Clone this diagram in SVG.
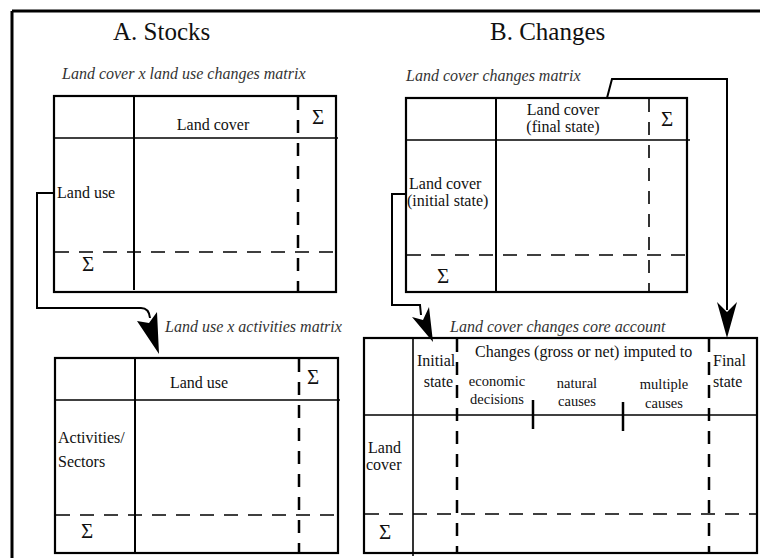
<svg xmlns="http://www.w3.org/2000/svg" width="760" height="558" viewBox="0 0 760 558">
<style>
text{font-family:"Liberation Serif","Times New Roman",serif;fill:#111;font-size:16px}
.title{font-size:25px}
.it{font-style:italic;fill:#333}
.sig{font-size:21px;text-anchor:middle}
.mid{text-anchor:middle}
.end{text-anchor:end}
.sm{font-size:14.5px}
.box{fill:none;stroke:#000;stroke-width:2.2}
.col{stroke:#000;stroke-width:2}
.hdr{stroke:#000;stroke-width:1.3}
.dv{stroke:#000;stroke-width:2.5;stroke-dasharray:13 10}
.dh{stroke:#000;stroke-width:1.5;stroke-dasharray:14 10}
.conn{fill:none;stroke:#000;stroke-width:2}
.head{fill:#000}
</style>
<rect width="760" height="558" fill="#fff"/>
<g id="frame">
<line x1="12" y1="11" x2="760" y2="11" stroke="#000" stroke-width="3"/>
<line x1="12" y1="11" x2="12" y2="558" stroke="#000" stroke-width="3"/>
</g>
<text class="title" x="113" y="40">A. Stocks</text>
<text class="title" x="490" y="40">B. Changes</text>

<g id="matrixA1">
<text class="it" x="62" y="79">Land cover x land use changes matrix</text>
<rect class="box" x="54" y="96" width="282" height="196"/>
<line class="hdr" x1="54" y1="138" x2="338" y2="138"/>
<line class="col" x1="134" y1="96" x2="134" y2="290"/>
<line class="dv" x1="298" y1="97" x2="298" y2="292"/>
<line class="dh" x1="55" y1="252" x2="336" y2="252"/>
<text class="mid" x="213" y="130">Land cover</text>
<text class="sig" x="318" y="124">Σ</text>
<text x="57" y="198">Land use</text>
<text class="sig" x="88" y="271">Σ</text>
</g>

<g id="matrixA2">
<text class="it" x="165" y="332">Land use x activities matrix</text>
<rect class="box" x="55" y="358" width="283" height="195"/>
<line class="hdr" x1="55" y1="400" x2="340" y2="400"/>
<line class="col" x1="135" y1="358" x2="135" y2="553"/>
<line class="dv" x1="299" y1="359" x2="299" y2="553"/>
<line class="dh" x1="56" y1="515" x2="338" y2="515"/>
<text class="mid" x="199" y="388">Land use</text>
<text class="sig" x="313" y="384">Σ</text>
<text x="58" y="443">Activities/</text>
<text x="58" y="467">Sectors</text>
<text class="sig" x="87" y="538">Σ</text>
</g>

<g id="matrixB1">
<text class="it" x="406" y="81">Land cover changes matrix</text>
<rect class="box" x="406" y="98" width="281" height="194"/>
<line class="hdr" x1="406" y1="140" x2="690" y2="140"/>
<line class="col" x1="496" y1="98" x2="496" y2="292"/>
<line class="dv" x1="649" y1="99" x2="649" y2="292" style="stroke-width:1.6"/>
<line class="dh" x1="407" y1="255" x2="687" y2="255"/>
<text class="mid" x="563" y="115">Land cover</text>
<text class="mid" x="563" y="132">(final state)</text>
<text class="sig" x="667" y="126">Σ</text>
<text x="409" y="189">Land cover</text>
<text x="407" y="206">(initial state)</text>
<text class="sig" x="443" y="283">Σ</text>
</g>

<g id="matrixB2">
<text class="it" x="450" y="332">Land cover changes core account</text>
<rect class="box" x="364" y="338" width="393" height="215"/>
<line class="col" x1="413" y1="338" x2="413" y2="556" style="stroke-width:1.6"/>
<line class="hdr" x1="364" y1="415" x2="757" y2="415"/>
<line class="dv" x1="457" y1="339" x2="457" y2="553"/>
<line class="dv" x1="709" y1="339" x2="709" y2="553"/>
<line class="col" x1="533" y1="400" x2="533" y2="429" style="stroke-width:2.5"/>
<line class="col" x1="623" y1="402" x2="623" y2="431" style="stroke-width:2.5"/>
<line class="dh" x1="365" y1="514" x2="757" y2="514"/>
<text x="417" y="366">Initial</text>
<text class="end" x="453" y="387">state</text>
<text x="475" y="357">Changes (gross or net) imputed to</text>
<text class="mid sm" x="497" y="386">economic</text>
<text class="mid sm" x="497" y="404">decisions</text>
<text class="mid sm" x="577" y="388">natural</text>
<text class="mid sm" x="577" y="406">causes</text>
<text class="mid sm" x="664" y="389">multiple</text>
<text class="mid sm" x="664" y="408">causes</text>
<text x="713" y="366">Final</text>
<text x="713" y="387">state</text>
<text x="368" y="453">Land</text>
<text x="366" y="470">cover</text>
<text class="sig" x="385" y="539">Σ</text>
</g>

<g id="connectors">
<path class="conn" d="M54,193 H37 V308 H141 Q149,308 150,318"/>
<polygon class="head" points="159,354 137,321 149,323 157,312"/>
<path class="conn" d="M406,194 H392 V305 H420 L421,315"/>
<polygon class="head" points="433,342 412,317 423,320 429,307"/>
<path class="conn" d="M607,98 L612,79 H727 V310"/>
<polygon class="head" points="727,338 717,302 727,312 737,302"/>
</g>
</svg>
